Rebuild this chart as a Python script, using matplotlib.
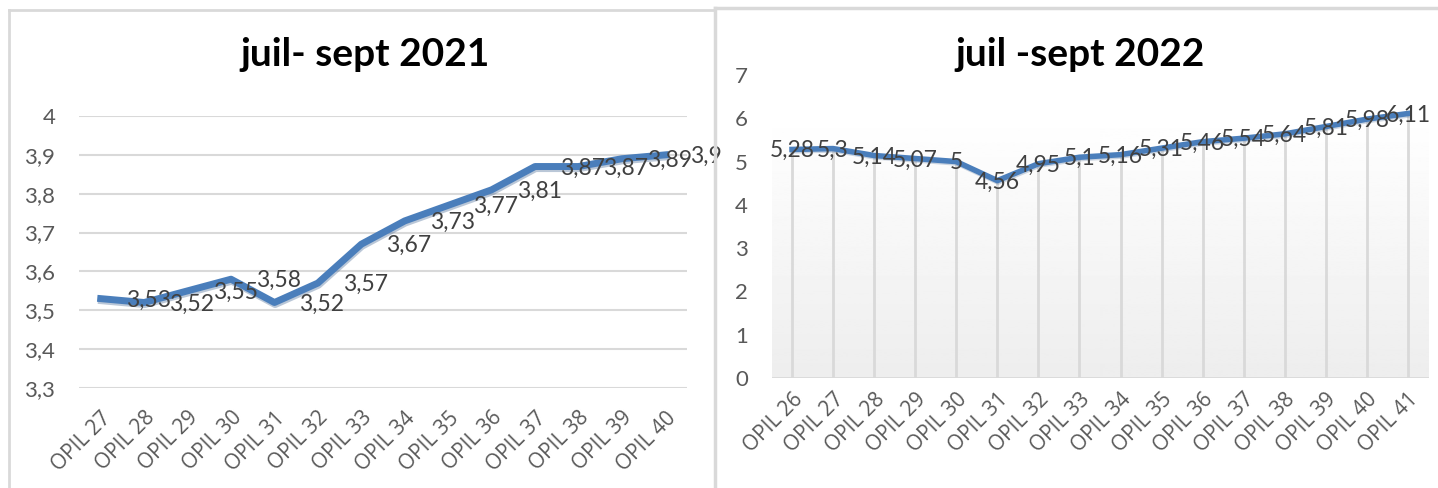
import numpy as np
import matplotlib
matplotlib.use('Agg')
import matplotlib.pyplot as plt
import matplotlib.patheffects as pe
from matplotlib.lines import Line2D

# weekly values, 2021 and 2022
weeks_2021 = ['OPIL 27', 'OPIL 28', 'OPIL 29', 'OPIL 30', 'OPIL 31', 'OPIL 32', 'OPIL 33',
              'OPIL 34', 'OPIL 35', 'OPIL 36', 'OPIL 37', 'OPIL 38', 'OPIL 39', 'OPIL 40']
values_2021 = [3.53, 3.52, 3.55, 3.58, 3.52, 3.57, 3.67, 3.73, 3.77, 3.81, 3.87, 3.87, 3.89, 3.9]

weeks_2022 = ['OPIL 26', 'OPIL 27', 'OPIL 28', 'OPIL 29', 'OPIL 30', 'OPIL 31', 'OPIL 32', 'OPIL 33',
              'OPIL 34', 'OPIL 35', 'OPIL 36', 'OPIL 37', 'OPIL 38', 'OPIL 39', 'OPIL 40', 'OPIL 41']
values_2022 = [5.28, 5.3, 5.14, 5.07, 5.0, 4.56, 4.95, 5.1, 5.16, 5.31, 5.46, 5.54, 5.64, 5.81, 5.98, 6.11]

title_2021 = 'juil- sept 2021'
title_2022 = 'juil -sept 2022'

yticks_2021 = [3.3, 3.4, 3.5, 3.6, 3.7, 3.8, 3.9, 4.0]
yticks_2022 = [0, 1, 2, 3, 4, 5, 6, 7]

LINE = '#4a7ebb'
GRID = '#d9d9d9'
TICK = '#595959'
LABEL = '#404040'
NUM_FONT = 'Lato'
CAT_FONT = 'Open Sans'


def fr(v):
    return f'{v:g}'.replace('.', ',')


def style_axis(ax, cats, yticks, xpad):
    for s in ax.spines.values():
        s.set_visible(False)
    ax.set_xticks(range(len(cats)))
    ax.set_xticklabels(cats, rotation=45, ha='right', va='top', rotation_mode='anchor',
                       fontsize=15, color=TICK, family=CAT_FONT)
    ax.set_yticks(yticks)
    ax.set_yticklabels([fr(t) for t in yticks], fontsize=16, color=TICK, family=NUM_FONT)
    ax.tick_params(axis='both', length=0)
    ax.tick_params(axis='y', pad=17)
    ax.tick_params(axis='x', pad=xpad)
    ax.set_xlim(-0.5, len(cats) - 0.5)


fig = plt.figure(figsize=(14.38, 4.88), dpi=100)
W, H = 1438, 488

# panel frames
fig.add_artist(Line2D([9 / W, 9 / W], [0, 1 - 10 / H], color=GRID, lw=2))
fig.add_artist(Line2D([9 / W, 715 / W], [1 - 10 / H, 1 - 10 / H], color=GRID, lw=2))
fig.add_artist(Line2D([715 / W, 715 / W], [0, 1 - 8 / H], color=GRID, lw=2.5))
fig.add_artist(Line2D([715 / W, 1], [1 - 8 / H, 1 - 8 / H], color=GRID, lw=2.5))

# 2021 panel
ax1 = fig.add_axes([79 / W, 100 / H, 608 / W, 272 / H])
style_axis(ax1, weeks_2021, yticks_2021, 14)
ax1.set_ylim(3.3, 4.0)
ax1.grid(axis='y', color=GRID, lw=1.5)
ax1.set_axisbelow(True)
x1 = np.arange(len(values_2021))
ax1.plot(x1, values_2021, color=LINE, lw=5, clip_on=False,
         path_effects=[pe.SimpleLineShadow(offset=(0.5, -1.5), shadow_color='#3a5f8f', alpha=0.35),
                       pe.Normal()])
for x, v in zip(x1, values_2021):
    ax1.annotate(fr(v), (x, v), xytext=(18, -1), textcoords='offset points', ha='left', va='center',
                 fontsize=16.5, color=LABEL, family=NUM_FONT, annotation_clip=False)
fig.text(365 / W, 1 - 55 / H, title_2021, ha='center', va='center', fontsize=28,
         fontweight='bold', family=NUM_FONT, color='black')

# 2022 panel
ax2 = fig.add_axes([771.5 / W, 110 / H, 657 / W, 303 / H])
style_axis(ax2, weeks_2022, yticks_2022, 8)
x2 = np.arange(len(values_2022))
grad = np.linspace(0.93, 1.0, 256).reshape(-1, 1)
ax2.imshow(grad, cmap='gray', vmin=0, vmax=1, origin='lower', aspect='auto',
           extent=(-0.5, len(values_2022) - 0.5, 0, 6.1), zorder=0)
ax2.set_ylim(0, 7)
ax2.vlines(x2, 0, values_2022, color=GRID, lw=2, zorder=1)
ax2.axhline(0, color=GRID, lw=2, zorder=1)
ax2.plot(x2, values_2022, color=LINE, lw=4, zorder=3, clip_on=False,
         path_effects=[pe.SimpleLineShadow(offset=(0.5, -1), shadow_color='#3a5f8f', alpha=0.25),
                       pe.Normal()])
for x, v in zip(x2, values_2022):
    ax2.annotate(fr(v), (x, v), xytext=(0, -1), textcoords='offset points', ha='center', va='center',
                 fontsize=16.5, color=LABEL, family=NUM_FONT, annotation_clip=False, zorder=4)
fig.text(1080 / W, 1 - 55 / H, title_2022, ha='center', va='center', fontsize=28,
         fontweight='bold', family=NUM_FONT, color='black')

fig.savefig('out.png', dpi=100, facecolor='white')
